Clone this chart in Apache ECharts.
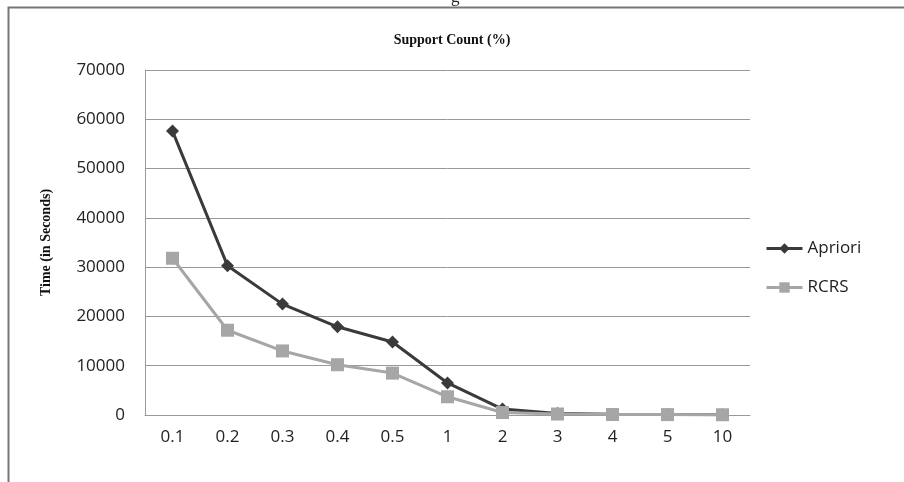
<!DOCTYPE html>
<html>
<head>
<meta charset="utf-8">
<script src="https://cdn.jsdelivr.net/npm/echarts@6/dist/echarts.min.js"></script>
<style>
  html, body { margin: 0; padding: 0; background: #fff; }
  #chart { width: 904px; height: 482px; }
</style>
</head>
<body>
<div id="chart"></div>
<script>
const supportCounts = ['0.1', '0.2', '0.3', '0.4', '0.5', '1', '2', '3', '4', '5', '10']
const aprioriTimes = [57600, 30300, 22500, 17900, 14800, 6500, 1200, 300, 150, 100, 50]
const rcrsTimes = [31800, 17200, 13000, 10200, 8500, 3700, 500, 200, 100, 80, 50]

const tickFont = { fontFamily: 'Open Sans', fontSize: 17, color: '#222' }

var chart = echarts.init(document.getElementById('chart'))
chart.setOption({
  backgroundColor: '#fff',
  animation: false,
  title: {
    text: 'Support Count (%)',
    left: 'center',
    top: 28,
    textStyle: { fontFamily: 'Liberation Serif', fontSize: 14, fontWeight: 'bold', color: '#111' }
  },
  graphic: [
    {
      type: 'rect',
      shape: { x: 8.5, y: 7.5, width: 920, height: 500 },
      style: { fill: 'none', stroke: '#777', lineWidth: 2 }
    },
    {
      type: 'text',
      left: 451, top: -11,
      style: { text: 'g', font: '17px "Liberation Serif"', fill: '#222' }
    }
  ],
  legend: {
    orient: 'vertical',
    left: 760,
    top: 235,
    itemGap: 22,
    itemWidth: 36,
    itemHeight: 13,
    lineStyle: { width: 3 },
    textStyle: { fontFamily: 'Open Sans', fontSize: 17, color: '#222' },
    data: ['Apriori', 'RCRS']
  },
  grid: { left: 145, right: 154, top: 70, bottom: 67 },
  xAxis: {
    type: 'category',
    data: supportCounts,
    boundaryGap: true,
    axisLine: { lineStyle: { color: '#999', width: 1 } },
    axisTick: { show: false },
    axisLabel: Object.assign({ margin: 14 }, tickFont)
  },
  yAxis: {
    type: 'value',
    min: 0,
    max: 70000,
    interval: 10000,
    name: 'Time (in Seconds)',
    nameLocation: 'middle',
    nameGap: 92,
    nameTextStyle: { fontFamily: 'Liberation Serif', fontSize: 14, fontWeight: 'bold', color: '#111' },
    axisLine: { show: true, lineStyle: { color: '#999' } },
    axisTick: { show: false },
    axisLabel: Object.assign({ margin: 20, formatter: v => String(v) }, tickFont),
    splitLine: { lineStyle: { color: '#999', width: 1 } }
  },
  series: [
    {
      name: 'Apriori',
      type: 'line',
      data: aprioriTimes,
      symbol: 'diamond',
      symbolSize: 13,
      lineStyle: { color: '#3a3a3a', width: 3 },
      itemStyle: { color: '#3a3a3a' },
      z: 3
    },
    {
      name: 'RCRS',
      type: 'line',
      data: rcrsTimes,
      symbol: 'rect',
      symbolSize: 13,
      lineStyle: { color: '#a6a6a6', width: 3 },
      itemStyle: { color: '#a6a6a6' },
      z: 4
    }
  ]
})
</script>
</body>
</html>
